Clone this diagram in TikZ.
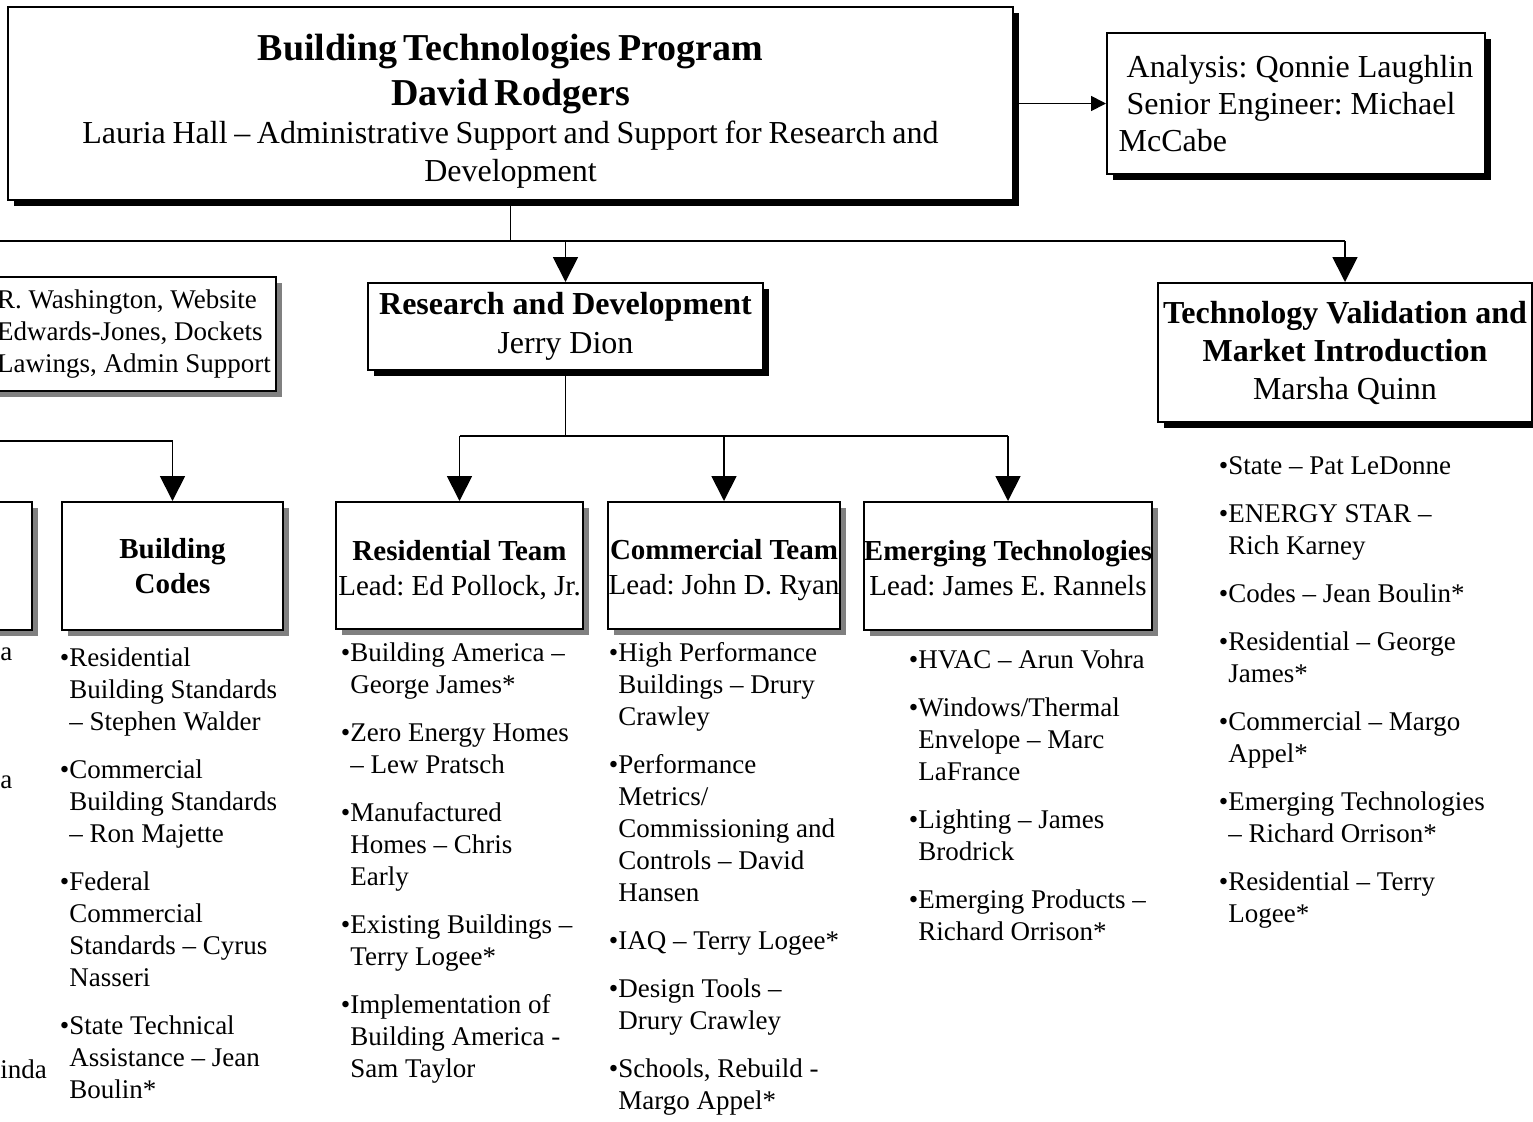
\documentclass[tikz,border=0pt]{standalone}
\usepackage{fontspec}
\setmainfont{Liberation Serif}
\usetikzlibrary{shadows, arrows.meta}
\frenchspacing

\begin{document}
\begin{tikzpicture}[x=0.5pt, y=-0.5pt, % 1 unit = 1 px of the chart
    box/.style={draw, line width=1pt, fill=white, inner sep=0pt, align=center},
    blackshadow/.style={general shadow={fill=black, shadow xshift=3pt, shadow yshift=-3pt}},
    grayshadow/.style={general shadow={fill=black!50, shadow xshift=3pt, shadow yshift=-3pt}},
    link/.style={line width=0.9pt},
    arr/.style={link, -{Triangle[length=12.5pt, width=12.5pt]}},
    arrsmall/.style={link, -{Triangle[length=7.5pt, width=7.5pt]}},
    items/.style={anchor=north west, inner sep=0pt, align=left, font=\fontsize{13.5}{16}\selectfont}]
        \def\bul{\llap{\textbullet}}
        \def\lift#1{\rule{0pt}{#1}}
        \useasboundingbox (0,0) rectangle (1533,1121);
        \clip (0,0) rectangle (1533,1121);

        % program office
        \node[box, blackshadow, minimum width=502.5pt, minimum height=96.5pt, text width=495pt] (bt) at (510.5,103.5)
            {{\fontsize{19}{22.5}\selectfont\bfseries\lift{21pt}Building Technologies Program\\ David Rodgers\par}
             \fontsize{16}{19}\selectfont Lauria Hall \textendash{} Administrative Support and Support for Research and\\ Development\par};
        \node[box, blackshadow, minimum width=189pt, minimum height=70.5pt, align=left,
              font=\fontsize{16}{18.5}\selectfont] (an) at (1296,103.5)
            {\hspace*{0.25em}Analysis: Qonnie Laughlin\\ \hspace*{0.25em}Senior Engineer: Michael\\McCabe};

        % second level
        \node[box, grayshadow, minimum width=142pt, minimum height=57pt, align=left,
              font=\fontsize{13.5}{16}\selectfont] (st) at (134,334)
            {R. Washington, Website\\Edwards-Jones, Dockets\\Lawings, Admin Support};
        \node[box, blackshadow, minimum width=197.5pt, minimum height=43.5pt,
              font=\fontsize{16}{19.5}\selectfont] (rd) at (565.5,326.5)
            {\textbf{Research and Development}\\Jerry Dion};
        \node[box, blackshadow, minimum width=187pt, minimum height=69.5pt,
              font=\fontsize{16}{19}\selectfont] (tv) at (1345,352.5)
            {\textbf{Technology Validation and}\\\textbf{Market Introduction}\\Marsha Quinn};

        % teams
        \node[box, grayshadow, minimum width=116pt, minimum height=64pt] (lp) at (-84,566) {};
        \node[box, grayshadow, minimum width=110.5pt, minimum height=64pt,
              font=\fontsize{14.5}{17.5}\selectfont\bfseries] (bc) at (172.5,566) {Building\\Codes};
        \node[box, grayshadow, minimum width=123.5pt, minimum height=63.5pt,
              font=\fontsize{14.5}{17.5}\selectfont] (res) at (459.5,565.5)
            {\lift{15pt}\textbf{Residential Team}\\Lead: Ed Pollock, Jr.};
        \node[box, grayshadow, minimum width=116pt, minimum height=63.5pt,
              font=\fontsize{14.5}{17.5}\selectfont] (com) at (724,565.5)
            {\lift{15pt}\textbf{Commercial Team}\\Lead: John D. Ryan};
        \node[box, grayshadow, minimum width=144pt, minimum height=64pt,
              font=\fontsize{14.5}{17.5}\selectfont] (emg) at (1008,566)
            {\lift{12pt}\textbf{Emerging Technologies}\\Lead: James E. Rannels};

        % connectors
        \coordinate (lftA) at (-20,241);
        \coordinate (lftB) at (-20,441);
        \coordinate (rdbar) at (566,436);
        \draw[arrsmall] (bt) -- (an);
        \draw[link] (bt.south) -- (bt.south |- lftA);
        \draw[link] (lftA) -- (tv |- lftA);
        \draw[arr] (rd |- lftA) -- (rd);
        \draw[arr] (tv |- lftA) -- (tv);
        \draw[arr] (lftB) -| (bc);
        \draw[link] (rd) -- (rd |- rdbar);
        \draw[link] (res |- rdbar) -- (emg |- rdbar);
        \foreach \t in {res, com, emg}
            \draw[arr] (\t |- rdbar) -- (\t);

        % lists
        \foreach \y/\t in {647/a, 775/a, 1059/inda}
            \node[items] (frag\y) at (0,\y) {\t};
        \node[items] (bcl) at (69,647)
            {\bul Residential\\Building Standards\\\textendash{} Stephen Walder\\[8pt]
             \bul Commercial\\Building Standards\\\textendash{} Ron Majette\\[8pt]
             \bul Federal\\Commercial\\Standards \textendash{} Cyrus\\Nasseri\\[8pt]
             \bul State Technical\\Assistance \textendash{} Jean\\Boulin*};
        \node[items] (resl) at (350,642)
            {\bul Building America \textendash\\George James*\\[8pt]
             \bul Zero Energy Homes\\\textendash{} Lew Pratsch\\[8pt]
             \bul Manufactured\\Homes \textendash{} Chris\\Early\\[8pt]
             \bul Existing Buildings \textendash\\Terry Logee*\\[8pt]
             \bul Implementation of\\Building America -\\Sam Taylor};
        \node[items] (coml) at (618,642)
            {\bul High Performance\\Buildings \textendash{} Drury\\Crawley\\[8pt]
             \bul Performance\\Metrics/\\Commissioning and\\Controls \textendash{} David\\Hansen\\[8pt]
             \bul IAQ \textendash{} Terry Logee*\\[8pt]
             \bul Design Tools \textendash\\Drury Crawley\\[8pt]
             \bul Schools, Rebuild -\\Margo Appel*};
        \node[items] (emgl) at (918,649)
            {\bul HVAC \textendash{} Arun Vohra\\[8pt]
             \bul Windows/Thermal\\Envelope \textendash{} Marc\\LaFrance\\[8pt]
             \bul Lighting \textendash{} James\\Brodrick\\[8pt]
             \bul Emerging Products \textendash\\Richard Orrison*};
        \node[items] (tvl) at (1228,456)
            {\bul State \textendash{} Pat LeDonne\\[8pt]
             \bul ENERGY STAR \textendash\\Rich Karney\\[8pt]
             \bul Codes \textendash{} Jean Boulin*\\[8pt]
             \bul Residential \textendash{} George\\James*\\[8pt]
             \bul Commercial \textendash{} Margo\\Appel*\\[8pt]
             \bul Emerging Technologies\\\textendash{} Richard Orrison*\\[8pt]
             \bul Residential \textendash{} Terry\\Logee*};
    \end{tikzpicture}
\end{document}
